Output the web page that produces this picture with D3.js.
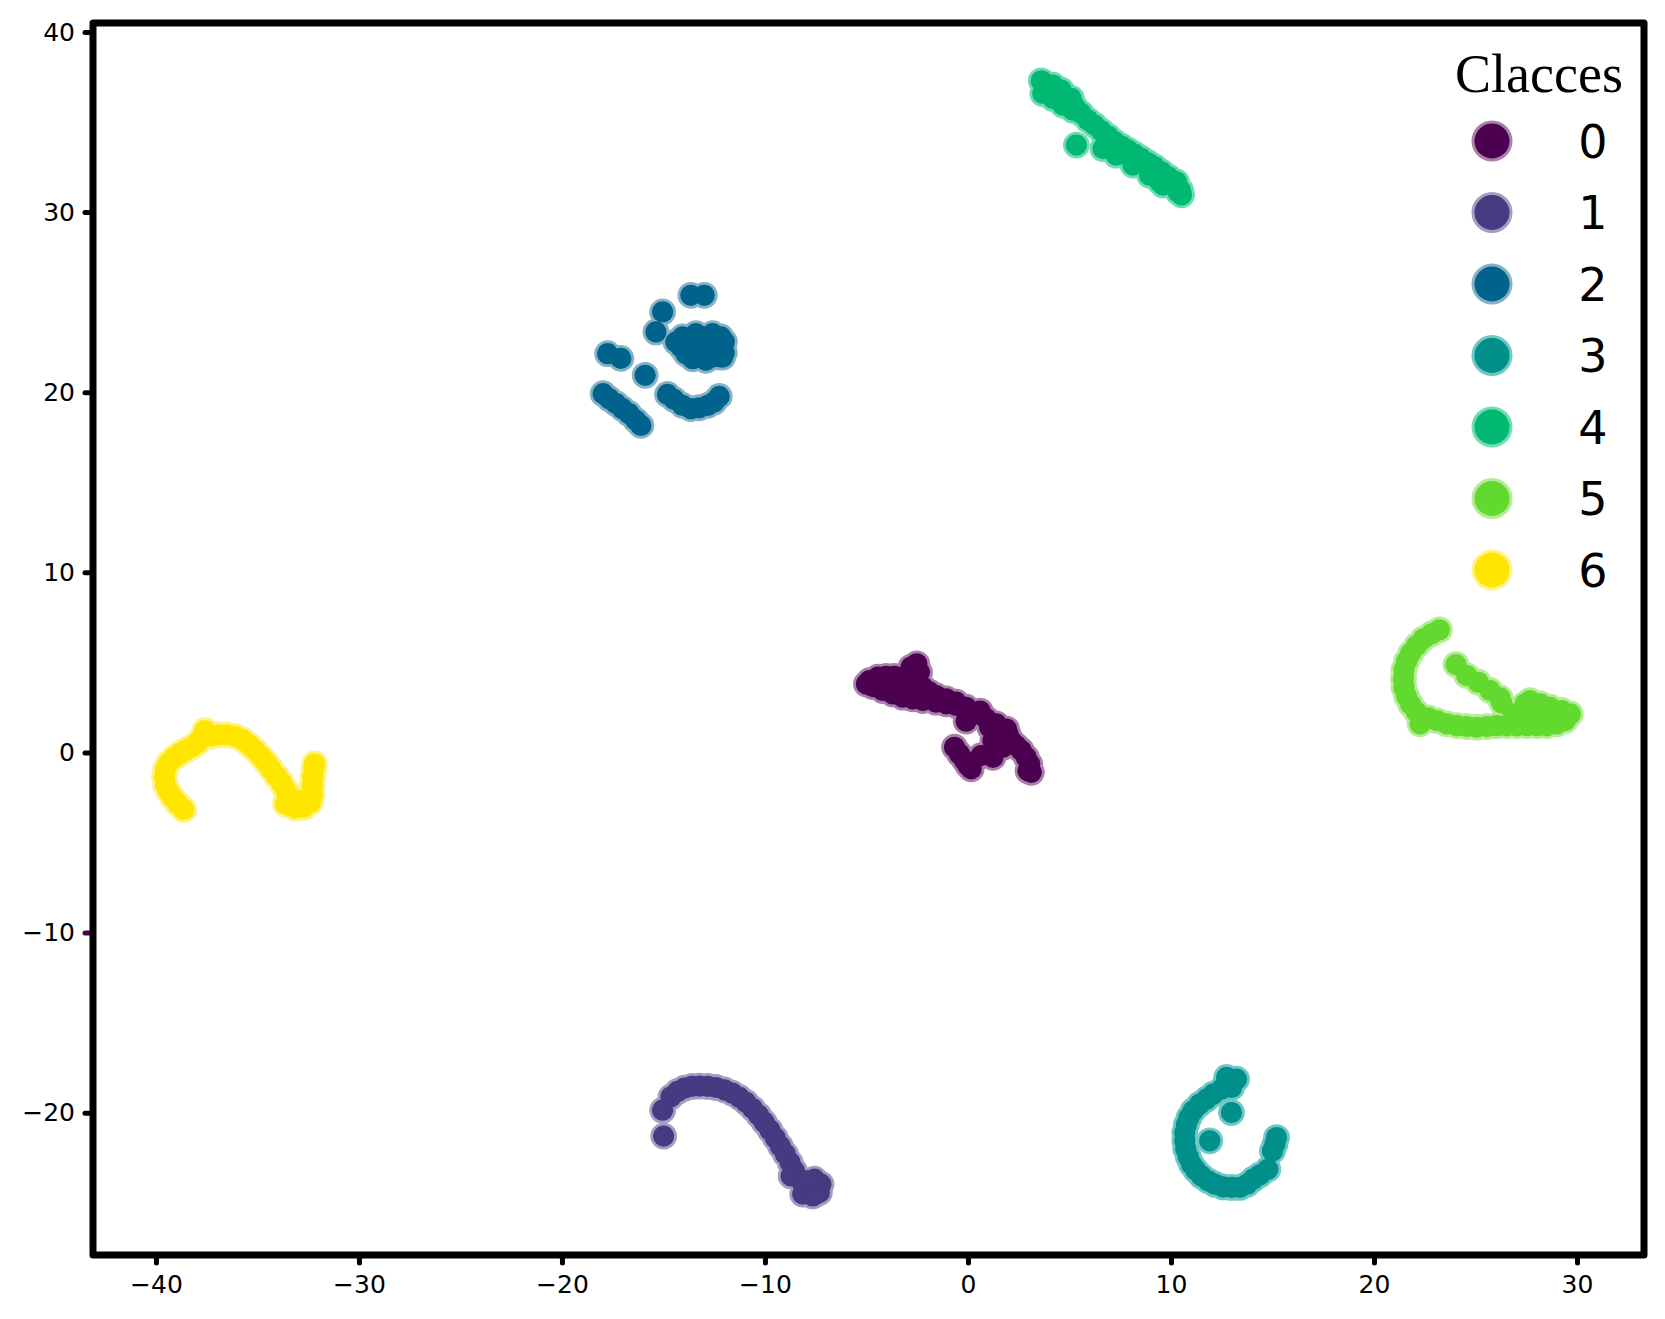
<!DOCTYPE html>
<html>
<head>
<meta charset="utf-8">
<script src="https://cdn.jsdelivr.net/npm/d3@7"></script>
<style>
  body { margin: 0; background: #fff; }
  svg { display: block; }
</style>
</head>
<body>
<svg id="chart"></svg>
<script>
// class labels and colours (fill / edge)
var classes = ["0", "1", "2", "3", "4", "5", "6"];
var fills = ["#4c0050", "#463a82", "#00638c", "#008f8a", "#00b872", "#62d92e", "#ffe600"];
var edges = ["#a880aa", "#a49dc2", "#86b2c6", "#6fc8c4", "#6edcb5", "#b5ec98", "#fff28c"];

var xTicks = [-40, -30, -20, -10, 0, 10, 20, 30];
var yTicks = [-20, -10, 0, 10, 20, 30, 40];

// points per class
var cls0 = [[-4.85,3.99],[-4.44,4.18],[-4.03,4.22],[-3.62,4.22],[-3.21,4.18],[-2.52,4.92],[-2.8,4.74],[-2.39,4.46],
  [-4.69,3.66],[-4.2,3.44],[-3.7,3.25],[-3.21,3.07],[-2.72,2.98],[-2.72,3.72],[-2.22,3.62],[-1.89,3.35],[-2.22,2.88],
  [-1.57,3.16],[-1.57,2.79],[-1.07,2.98],[-1.07,2.7],[-0.58,2.79],[-0.58,2.61],[-0.09,2.51],[-0.09,1.74],[0.41,2.14],
  [0.9,1.87],[1.07,1.4],[1.39,1.59],[1.56,1.22],[1.97,1.03],[2.13,0.66],[2.38,0.38],[2.63,0.11],[2.87,-0.27],
  [3.04,-0.64],[2.96,-1.01],[3.12,-1.1],[1.23,0.66],[1.31,0.11],[1.23,-0.27],[1.72,0.29],[-0.66,0.29],[-0.42,-0.08],
  [-0.17,-0.45],[0.0,-0.73],[0.16,-0.91],[0.65,-0.17],[-5.0,3.8],[0.6,2.3],[1.9,1.3]];
var cls1 = [[-15.04,-19.86],[-14.99,-21.3],[-14.63,-19.12],[-14.3,-18.82],[-13.97,-18.64],[-13.6,-18.54],[-13.23,-18.52],
  [-12.82,-18.54],[-12.41,-18.6],[-12.0,-18.73],[-11.62,-18.91],[-11.26,-19.15],[-10.93,-19.43],[-10.61,-19.77],
  [-10.31,-20.14],[-10.03,-20.54],[-9.75,-20.97],[-9.49,-21.41],[-9.24,-21.86],[-8.99,-22.3],[-8.76,-22.77],
  [-8.55,-23.23],[-8.34,-23.64],[-8.11,-24.01],[-7.89,-24.38],[-7.65,-24.62],[-7.32,-24.43],[-7.24,-23.97],
  [-7.56,-23.69],[-8.71,-23.51],[-8.14,-24.52],[-7.48,-24.52],[-7.98,-23.78]];
var cls2 = [[-13.65,25.38],[-12.99,25.38],[-15.04,24.46],[-15.37,23.35],
  [-14.06,23.07],[-13.56,23.07],[-13.07,23.07],[-12.58,23.07],[-12.17,23.07],
  [-14.14,22.51],[-13.65,22.51],[-13.15,22.51],[-12.66,22.51],[-12.17,22.51],
  [-13.56,21.96],[-13.07,21.96],[-12.58,21.96],[-12.17,21.96],
  [-14.39,22.79],[-13.4,23.25],[-12.58,23.25],[-12.0,22.8],[-12.0,22.2],[-12.08,21.96],[-12.91,21.77],
  [-13.56,21.86],[-13.89,22.14],
  [-17.75,22.14],[-17.1,21.88],[-15.9,20.94],
  [-17.97,19.92],[-17.67,19.64],[-17.34,19.37],[-17.02,19.09],[-16.69,18.81],[-16.36,18.44],[-16.11,18.16],
  [-14.8,19.88],[-14.47,19.59],[-14.06,19.27],[-13.65,19.09],[-13.24,19.14],[-12.82,19.27],[-12.5,19.46],[-12.25,19.77]];
var cls3 = [[12.74,-18.04],[13.23,-18.14],[12.98,-18.6],[12.49,-18.69],[12.08,-18.97],[11.75,-19.25],[11.42,-19.52],
  [11.09,-19.89],[10.89,-20.27],[10.76,-20.67],[10.68,-21.1],[10.68,-21.56],[10.73,-22.02],[10.85,-22.45],
  [11.01,-22.86],[11.22,-23.19],[11.5,-23.51],[11.83,-23.78],[12.16,-23.97],[12.57,-24.12],[12.98,-24.15],
  [13.39,-24.15],[13.75,-23.97],[14.05,-23.69],[14.38,-23.45],[14.77,-23.14],[15.2,-21.38],[15.12,-21.75],
  [15.0,-22.12],[12.98,-19.99],[11.91,-21.56]];
var cls4 = [[3.61,37.29],[3.69,37.23],[3.69,36.59],[4.02,36.96],[4.19,37.05],[4.19,36.31],[4.43,36.59],[4.6,36.77],
  [4.68,35.94],[4.84,36.22],[5.09,36.31],[5.17,35.66],[5.26,35.85],[5.58,35.48],[5.91,35.11],[6.24,34.83],
  [6.57,34.51],[6.9,34.22],[6.98,33.53],[7.23,33.9],[7.56,33.66],[7.89,33.44],[8.13,32.61],[8.21,33.22],
  [8.54,32.98],[8.87,32.74],[9.2,32.51],[9.53,32.24],[9.45,31.68],[9.86,31.96],[10.19,31.62],[10.27,31.68],
  [10.35,31.12],[10.47,31.22],[10.52,30.96],[5.34,33.72],[6.65,33.53],[7.31,33.16],[8.95,32.05],[9.61,31.5]];
var cls5 = [[23.22,6.81],[22.84,6.59],[22.43,6.31],[22.1,5.94],[21.81,5.51],[21.61,5.07],[21.48,4.59],[21.45,4.09],
  [21.48,3.59],[21.61,3.11],[21.81,2.66],[22.1,2.24],[22.27,1.59],[22.68,1.92],[23.09,1.77],[23.58,1.59],
  [24.08,1.49],[24.57,1.44],[25.06,1.4],[25.56,1.44],[26.05,1.49],[26.54,1.49],[27.04,1.49],[27.53,1.49],
  [28.02,1.49],[28.51,1.49],[29.01,1.59],[29.42,1.77],[29.67,2.14],[29.25,2.33],[28.68,2.51],[28.19,2.7],
  [27.69,2.88],[27.45,2.7],[26.87,2.14],[27.53,2.14],[28.19,2.14],[29.17,1.96],
  [24.04,4.88],[24.57,4.27],[25.14,3.9],[25.72,3.44],[26.21,3.03],[26.3,2.74]];
var cls6 = [[-38.63,-3.17],[-38.91,-2.86],[-39.17,-2.52],[-39.37,-2.17],[-39.53,-1.8],[-39.58,-1.38],[-39.53,-0.95],
  [-39.37,-0.58],[-39.12,-0.3],[-38.84,-0.08],[-38.55,0.11],[-38.25,0.29],[-37.97,0.53],[-37.73,0.85],[-37.59,1.22],
  [-37.31,0.9],[-36.9,0.98],[-36.49,0.98],[-36.08,0.88],[-35.72,0.7],[-35.39,0.42],[-35.1,0.11],[-34.82,-0.23],
  [-34.55,-0.58],[-34.31,-0.95],[-34.06,-1.32],[-33.81,-1.69],[-33.62,-2.06],[-33.5,-2.49],[-33.45,-2.95],
  [-33.12,-3.1],[-32.71,-3.04],[-32.38,-2.76],[-32.3,-2.3],[-32.3,-1.84],[-32.27,-1.38],[-32.22,-0.91],
  [-32.19,-0.64],[-33.62,-2.86],[-32.96,-2.67],[-33.21,-2.57]];
var series = [cls0, cls1, cls2, cls3, cls4, cls5, cls6];

var width = 1665, height = 1319;
var margin = {left: 93, top: 23, right: 21, bottom: 64};
var svg = d3.select("#chart").attr("width", width).attr("height", height);

var x = d3.scaleLinear().domain([-43.1, 33.3]).range([margin.left, width - margin.right]);
var y = d3.scaleLinear().domain([-27.9, 40.5]).range([height - margin.bottom, margin.top]);

var plot = svg.append("g");

// each class: light edge layer first, then fill on top, so only the outer rim shows
series.forEach(function (pts, i) {
    var g = plot.append("g");
    g.selectAll(".edge").data(pts).enter().append("circle")
        .attr("cx", function (d) { return x(d[0]); })
        .attr("cy", function (d) { return y(d[1]); })
        .attr("r", 13.4)
        .attr("fill", edges[i]);
    g.selectAll(".dot").data(pts).enter().append("circle")
        .attr("cx", function (d) { return x(d[0]); })
        .attr("cy", function (d) { return y(d[1]); })
        .attr("r", 10.6)
        .attr("fill", fills[i]);
});

// axes
var fmt = function (d) { return d < 0 ? "\u2212" + Math.abs(d) : String(d); };
var xAxis = svg.append("g").attr("transform", "translate(0," + (height - margin.bottom) + ")")
    .call(d3.axisBottom(x).tickValues(xTicks).tickSize(8).tickPadding(12).tickFormat(fmt));
var yAxis = svg.append("g").attr("transform", "translate(" + margin.left + ",0)")
    .call(d3.axisLeft(y).tickValues(yTicks).tickSize(8).tickPadding(10).tickFormat(fmt));
[xAxis, yAxis].forEach(function (a) {
    a.select(".domain").remove();
    a.selectAll(".tick line").attr("stroke", "#000").attr("stroke-width", 5).attr("stroke-linecap", "round");
    a.selectAll(".tick text").attr("fill", "#000")
        .style("font-family", "'DejaVu Sans', sans-serif").style("font-size", "25px");
});
// the -10 tick is tinted in the original
yAxis.selectAll(".tick").filter(function (d) { return d === -10; })
    .select("line").attr("stroke", fills[0]);

// frame
svg.append("rect")
    .attr("x", margin.left).attr("y", margin.top)
    .attr("width", width - margin.left - margin.right)
    .attr("height", height - margin.top - margin.bottom)
    .attr("fill", "none").attr("stroke", "#000").attr("stroke-width", 7)
    .attr("stroke-linejoin", "round");

// legend
var legend = svg.append("g");
legend.append("text")
    .attr("x", 1623).attr("y", 92)
    .attr("text-anchor", "end")
    .style("font-family", "'Liberation Serif', 'Times New Roman', serif")
    .style("font-size", "54px")
    .text("Clacces");
var rowY = d3.scaleLinear().domain([0, 6]).range([141, 570]);
var item = legend.selectAll(".item").data(classes).enter().append("g")
    .attr("transform", function (d, i) { return "translate(0," + rowY(i) + ")"; });
item.append("circle").attr("cx", 1492).attr("cy", 0).attr("r", 19)
    .attr("fill", function (d, i) { return fills[i]; })
    .attr("stroke", function (d, i) { return edges[i]; })
    .attr("stroke-width", 3);
item.append("text")
    .attr("x", 1593).attr("y", 0).attr("dy", "0.36em")
    .attr("text-anchor", "middle")
    .style("font-family", "'DejaVu Sans', sans-serif")
    .style("font-size", "46px")
    .text(function (d) { return d; });
</script>
</body>
</html>
